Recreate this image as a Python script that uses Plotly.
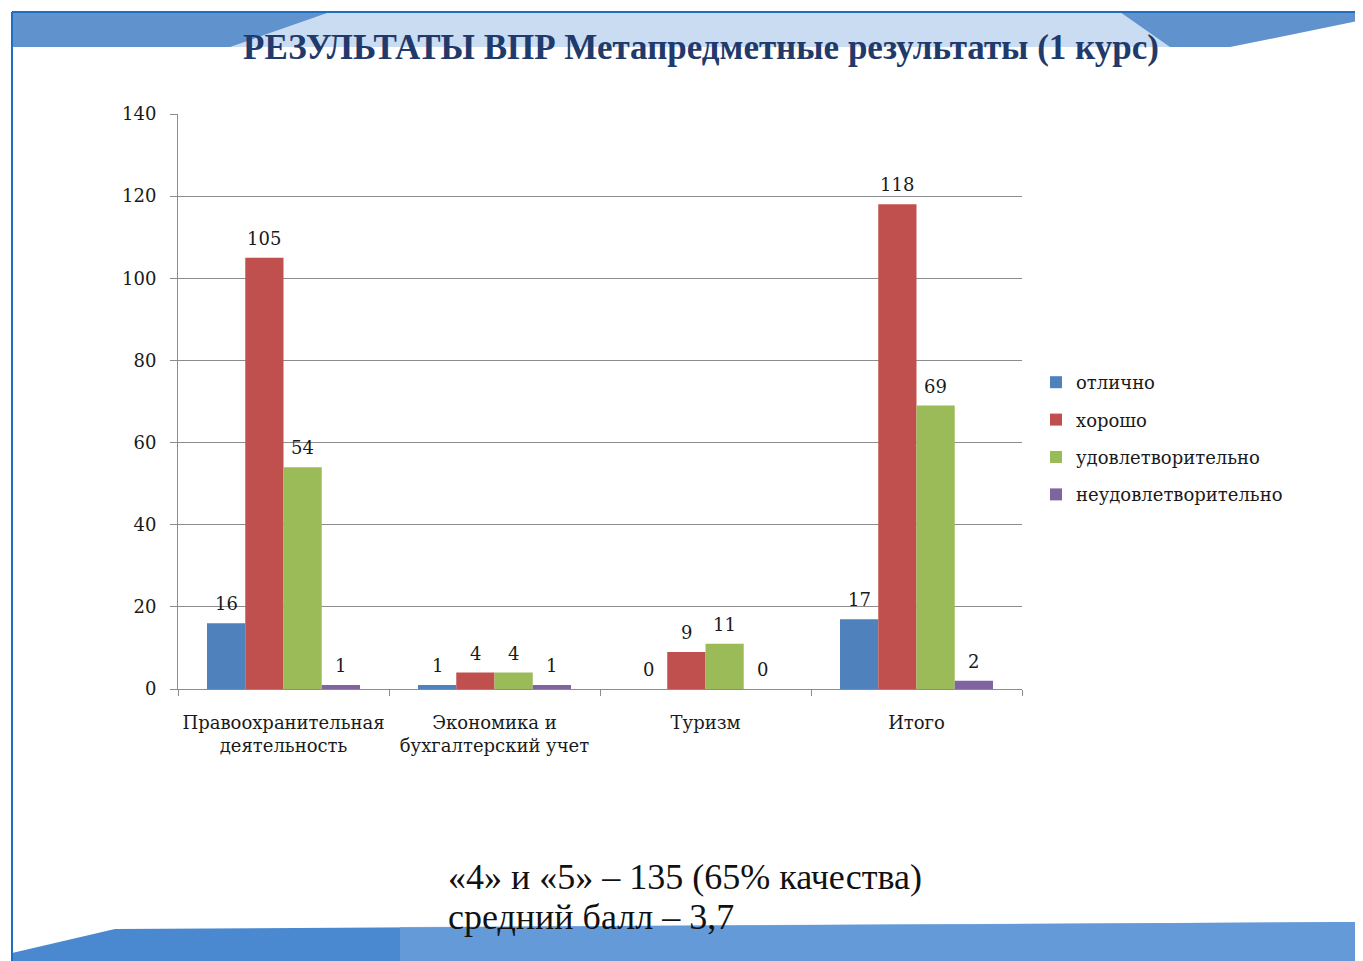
import plotly.graph_objects as go

categories = ["Правоохранительная<br>деятельность", "Экономика и<br>бухгалтерский учет", "Туризм", "Итого"]
series_names = ["отлично", "хорошо", "удовлетворительно", "неудовлетворительно"]
otlichno = [16, 1, 0, 17]
horosho = [105, 4, 9, 118]
udovl = [54, 4, 11, 69]
neudovl = [1, 1, 0, 2]
colors = ["#4F81BD", "#C0504D", "#9BBB59", "#8064A2"]
y_ticks = [0, 20, 40, 60, 80, 100, 120, 140]

# page has an 8px body margin; work in reference pixel coords
OFF = 8
W, H = 1363 - OFF, 961 - OFF
L, R, T, B = 178, 1022, 114, 689
BARGAP = 0.275

def px(x):
    return (x - L) / (R - L)

def py(y):
    return (B - y) / (B - T)

all_series = [otlichno, horosho, udovl, neudovl]

fig = go.Figure()
for name, vals, col in zip(series_names, all_series, colors):
    fig.add_trace(go.Bar(
        x=categories, y=vals, name=name, marker=dict(color=col, line=dict(width=0)),
        legendgroup=name, hoverinfo="x+y+name",
    ))

# value labels (derived from data arrays), offset to each bar of the group
cat_w = (R - L) / len(categories)
bar_w = cat_w * (1 - BARGAP) / len(series_names)
annotations = []
for i, vals in enumerate(all_series):
    shift = (i - (len(series_names) - 1) / 2) * bar_w
    for c, v in zip(categories, vals):
        annotations.append(dict(
            x=c, y=v, xref="x", yref="y", text=str(v), showarrow=False,
            xanchor="center", yanchor="bottom", xshift=shift, yshift=7,
            font=dict(family="DejaVu Serif", size=18, color="#1a1a1a")))

def path(points):
    return "M " + " L ".join(f"{px(x):.5f},{py(y):.5f}" for x, y in points) + " Z"

shapes = [
    dict(type="path", xref="paper", yref="paper", layer="below",
         path=path([(12, 12), (1363, 12), (1363, 20), (1230, 47), (12, 47)]),
         fillcolor="#C9DCF1", line=dict(width=0)),
    dict(type="path", xref="paper", yref="paper", layer="below",
         path=path([(12, 12), (330, 12), (230, 47), (12, 47)]),
         fillcolor="#4E86C8", line=dict(width=0), opacity=0.85),
    dict(type="path", xref="paper", yref="paper", layer="below",
         path=path([(1120, 12), (1363, 12), (1363, 20), (1230, 47), (1170, 47)]),
         fillcolor="#4E86C8", line=dict(width=0), opacity=0.85),
    dict(type="line", xref="paper", yref="paper", layer="below",
         x0=px(12), x1=px(1363), y0=py(12), y1=py(12), line=dict(color="#1E6FC0", width=2)),
    dict(type="path", xref="paper", yref="paper", layer="below",
         path=path([(12, 953), (115, 929), (1363, 922), (1363, 961), (12, 961)]),
         fillcolor="#4A88CF", line=dict(width=0)),
    dict(type="path", xref="paper", yref="paper", layer="below",
         path=path([(400, 927), (1363, 922), (1363, 961), (400, 961)]),
         fillcolor="#6FA3DB", line=dict(width=0), opacity=0.7),
    dict(type="line", xref="paper", yref="paper", layer="below",
         x0=px(12), x1=px(12), y0=py(12), y1=py(961), line=dict(color="#1E6FC0", width=2)),
]

annotations += [
    dict(text="<b>РЕЗУЛЬТАТЫ ВПР Метапредметные результаты (1 курс)</b>",
         xref="paper", yref="paper", x=px(701), y=py(48), xanchor="center", yanchor="middle",
         showarrow=False, font=dict(family="Liberation Serif", size=35, color="#1F3A6B")),
    dict(text="«4» и «5» – 135 (65% качества)",
         xref="paper", yref="paper", x=px(446), y=py(877), xanchor="left", yanchor="middle",
         showarrow=False, font=dict(family="Liberation Serif", size=36, color="#111111")),
    dict(text="средний балл – 3,7",
         xref="paper", yref="paper", x=px(446), y=py(917), xanchor="left", yanchor="middle",
         showarrow=False, font=dict(family="Liberation Serif", size=36, color="#111111")),
]

fig.update_layout(
    width=W, height=H,
    margin=dict(l=L - OFF, r=W - (R - OFF), t=T - OFF, b=H - (B - OFF), pad=0),
    paper_bgcolor="white", plot_bgcolor="white",
    barmode="group", bargap=BARGAP, bargroupgap=0,
    showlegend=True,
    legend=dict(x=px(1036), y=py(364), xanchor="left", yanchor="top",
                font=dict(family="DejaVu Serif", size=18, color="#1a1a1a"),
                tracegroupgap=11, itemwidth=30, bgcolor="rgba(0,0,0,0)"),
    shapes=shapes, annotations=annotations,
    xaxis=dict(showline=True, linecolor="#8c8c8c", linewidth=1,
               ticks="outside", tickson="boundaries", ticklen=6, tickcolor="#8c8c8c",
               tickangle=0,
               tickfont=dict(family="DejaVu Serif", size=18, color="#1a1a1a"),
               showgrid=False, zeroline=False, ticklabelstandoff=17),
    yaxis=dict(range=[0, 140], tickvals=y_ticks, showline=True, linecolor="#8c8c8c", linewidth=1,
               ticks="outside", ticklen=7, tickcolor="#8c8c8c",
               tickfont=dict(family="DejaVu Serif", size=18, color="#1a1a1a"),
               showgrid=True, gridcolor="#8c8c8c", gridwidth=1, zeroline=False, ticklabelstandoff=10),
)

fig.write_html("out.html")
